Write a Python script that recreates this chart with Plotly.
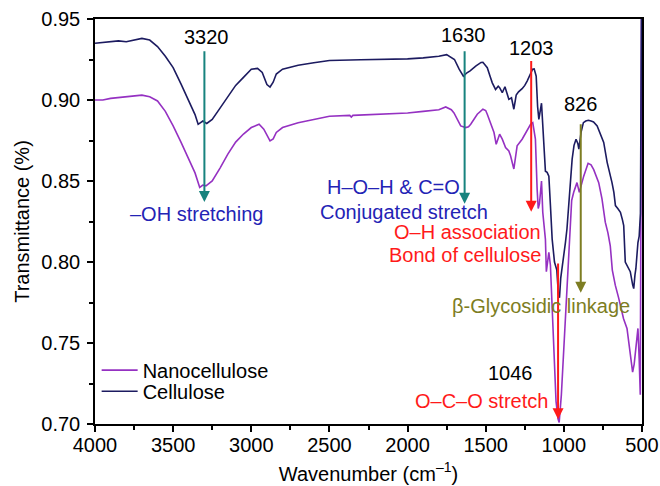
import plotly.graph_objects as go

# ---------------- data ----------------
wn_cell = [4000, 3950, 3900, 3850, 3800, 3750, 3700, 3650, 3600, 3550, 3500, 3450, 3400, 3360,
           3340, 3310, 3285, 3250, 3200, 3150, 3100, 3050, 3000, 2960, 2930, 2900, 2880, 2860,
           2840, 2800, 2700, 2600, 2500, 2300, 2100, 2000, 1900, 1800, 1750, 1720, 1700, 1670,
           1643, 1620, 1600, 1564, 1530, 1518, 1500, 1490, 1470, 1458, 1437, 1420, 1411, 1394,
           1377, 1360, 1352, 1335, 1320, 1305, 1290, 1267, 1250, 1235, 1213, 1200, 1190, 1177,
           1168, 1160, 1143, 1128, 1118, 1107, 1096, 1086, 1075, 1060, 1045, 1035, 1028, 1020,
           1005, 990, 980, 965, 947, 935, 922, 910, 904, 890, 875, 860, 843, 826, 810, 787, 765,
           745, 723, 705, 692, 680, 670, 655, 638, 625, 617, 607, 590, 575, 560, 553, 545, 539,
           526, 518, 510, 503]
t_cell = [0.935, 0.9355, 0.936, 0.9365, 0.936, 0.937, 0.938, 0.937, 0.933, 0.927, 0.920, 0.910,
          0.900, 0.891, 0.885, 0.887, 0.8855, 0.888, 0.895, 0.902, 0.909, 0.914, 0.919, 0.9195,
          0.917, 0.9095, 0.908, 0.911, 0.916, 0.919, 0.9215, 0.923, 0.9244, 0.9248, 0.925,
          0.9254, 0.926, 0.927, 0.928, 0.9265, 0.925, 0.919, 0.9147, 0.9168, 0.918, 0.9209,
          0.9232, 0.9233, 0.9215, 0.9199, 0.914, 0.9106, 0.9065, 0.9085, 0.9076, 0.9045,
          0.9082, 0.903, 0.9004, 0.9014, 0.8943, 0.903, 0.905, 0.907, 0.909, 0.9117, 0.9164,
          0.919, 0.9192, 0.9147, 0.896, 0.888, 0.898, 0.870, 0.856, 0.8553, 0.853, 0.835,
          0.8143, 0.800, 0.795, 0.780, 0.778, 0.790, 0.800, 0.812, 0.8205, 0.840, 0.8635,
          0.872, 0.8758, 0.873, 0.8697, 0.880, 0.886, 0.887, 0.8875, 0.887, 0.8865, 0.884,
          0.879, 0.8738, 0.8615, 0.855, 0.849, 0.843, 0.8348, 0.833, 0.8307, 0.826, 0.8225,
          0.800, 0.797, 0.794, 0.786, 0.7836, 0.792, 0.796, 0.812, 0.816, 0.830, 0.960]

wn_nano = [4000, 3950, 3900, 3850, 3800, 3750, 3700, 3650, 3600, 3550, 3500, 3450, 3400, 3360,
           3330, 3310, 3290, 3250, 3200, 3150, 3100, 3050, 3000, 2950, 2920, 2880, 2860, 2840,
           2800, 2700, 2600, 2500, 2370, 2360, 2350, 2200, 2000, 1900, 1800, 1756, 1720, 1703,
           1680, 1660, 1628, 1610, 1596, 1575, 1554, 1518, 1500, 1490, 1470, 1447, 1433, 1420,
           1411, 1394, 1373, 1352, 1341, 1320, 1310, 1299, 1267, 1235, 1213, 1199, 1182, 1171,
           1164, 1156, 1150, 1143, 1135, 1128, 1118, 1112, 1096, 1086, 1064, 1050, 1037, 1030,
           1016, 994, 979, 964, 950, 937, 916, 901, 887, 873, 845, 826, 809, 790, 777, 756, 735,
           718, 703, 690, 671, 650, 630, 618, 596, 575, 560, 550, 543, 526, 518, 511, 503]
t_nano = [0.900, 0.900, 0.901, 0.9015, 0.902, 0.9025, 0.903, 0.902, 0.8994, 0.893, 0.884, 0.874,
          0.8635, 0.855, 0.846, 0.8475, 0.847, 0.850, 0.858, 0.8666, 0.874, 0.879, 0.883,
          0.885, 0.882, 0.8748, 0.876, 0.880, 0.883, 0.886, 0.888, 0.890, 0.8905, 0.8895,
          0.8905, 0.891, 0.892, 0.893, 0.894, 0.8957, 0.894, 0.892, 0.888, 0.884, 0.883,
          0.8835, 0.885, 0.888, 0.8912, 0.8943, 0.8935, 0.8912, 0.886, 0.8799, 0.8727, 0.876,
          0.8789, 0.8758, 0.8707, 0.8686, 0.8656, 0.8574, 0.866, 0.8717, 0.8758, 0.881, 0.885,
          0.886, 0.8758, 0.845, 0.833, 0.836, 0.845, 0.850, 0.8307, 0.825, 0.814, 0.794,
          0.806, 0.798, 0.749, 0.714, 0.703, 0.701, 0.718, 0.759, 0.790, 0.820, 0.838, 0.843,
          0.849, 0.843, 0.849, 0.853, 0.8609, 0.860, 0.857, 0.852, 0.849, 0.839, 0.8246,
          0.818, 0.810, 0.795, 0.7857, 0.778, 0.770, 0.765, 0.759, 0.743, 0.732, 0.737,
          0.743, 0.759, 0.740, 0.718, 0.960]

x_ticks = [4000, 3500, 3000, 2500, 2000, 1500, 1000, 500]
y_ticks = [0.70, 0.75, 0.80, 0.85, 0.90, 0.95]

PURPLE = "#9531c2"
NAVY = "#1c1b60"
TEAL = "#18837e"
BLUE = "#2323b5"
RED = "#ff1a1a"
OLIVE = "#7d7d22"
FONT = "Liberation Sans, Arial, Helvetica, sans-serif"
FS = 20

fig = go.Figure()
fig.add_trace(go.Scatter(x=wn_nano, y=t_nano, mode="lines", name="Nanocellulose",
                         line=dict(color=PURPLE, width=1.6), legend="legend"))
fig.add_trace(go.Scatter(x=wn_cell, y=t_cell, mode="lines", name="Cellulose",
                         line=dict(color=NAVY, width=1.6), legend="legend2"))

# arrows: (head x, head y, tail x, tail y, color)
arrows = [
    (3300, 0.837, 3300, 0.931, TEAL),
    (1635, 0.836, 1635, 0.931, TEAL),
    (1209, 0.831, 1209, 0.925, RED),
    (892, 0.781, 892, 0.886, OLIVE),
    (1037, 0.703, 1037, 0.800, RED),
]
for hx, hy, tx, ty, c in arrows:
    fig.add_annotation(x=hx, y=hy, ax=tx, ay=ty, xref="x", yref="y", axref="x", ayref="y",
                       showarrow=True, arrowhead=2, arrowsize=1.1, arrowwidth=2,
                       arrowcolor=c, text="")

# texts: (x, y, text, color)
texts = [
    (3285, 0.9389, "3320", "black"),
    (3349, 0.8297, "–OH stretching", BLUE),
    (1639, 0.9403, "1630", "black"),
    (2092, 0.8463, "H–O–H &amp; C=O", BLUE),
    (2025, 0.8310, "Conjugated stretch", BLUE),
    (1205, 0.9324, "1203", "black"),
    (1617, 0.8187, "O–H association", RED),
    (1632, 0.8046, "Bond of cellulose", RED),
    (892, 0.8973, "826", "black"),
    (1147, 0.7726, "β-Glycosidic linkage", OLIVE),
    (1341, 0.7314, "1046", "black"),
    (1527, 0.7142, "O–C–O stretch", RED),
]
for x, y, t, c in texts:
    fig.add_annotation(x=x, y=y, xref="x", yref="y", text=t, showarrow=False,
                       font=dict(family=FONT, size=FS, color=c),
                       xanchor="center", yanchor="middle")

axis_common = dict(showline=True, linecolor="black", linewidth=1.5, mirror=True,
                   ticks="outside", ticklen=6, tickwidth=1.5, tickcolor="black",
                   showgrid=False, zeroline=False, automargin=False,
                   tickfont=dict(family=FONT, size=FS, color="black"))

fig.update_xaxes(range=[4000, 500], tickvals=x_ticks, ticktext=[str(v) for v in x_ticks],
                 ticklabelstandoff=-4,
                 minor=dict(ticks="outside", ticklen=4, tickwidth=1.5, tickcolor="black",
                            dtick=250, tick0=0),
                 title=dict(text="Wavenumber (cm<sup>–1</sup>)",
                            font=dict(family=FONT, size=FS, color="black"), standoff=12),
                 **axis_common)
fig.update_yaxes(range=[0.70, 0.95], tickvals=y_ticks, ticktext=[f"{v:.2f}" for v in y_ticks],
                 ticklabelstandoff=3,
                 minor=dict(ticks="outside", ticklen=4, tickwidth=1.5, tickcolor="black",
                            dtick=0.025, tick0=0),
                 title=dict(text="Transmittance (%)",
                            font=dict(family=FONT, size=FS, color="black"), standoff=6),
                 **axis_common)

leg_common = dict(xanchor="left", yanchor="middle", bgcolor="rgba(0,0,0,0)", borderwidth=0,
                  itemwidth=36, font=dict(family=FONT, size=FS, color="black"))
fig.update_layout(
    width=660, height=486,
    margin=dict(l=95, r=18, t=19, b=62),
    paper_bgcolor="white", plot_bgcolor="white",
    showlegend=True,
    legend=dict(x=0.003, y=0.133, **leg_common),
    legend2=dict(x=0.003, y=0.081, **leg_common),
)

fig.write_html("out.html")
